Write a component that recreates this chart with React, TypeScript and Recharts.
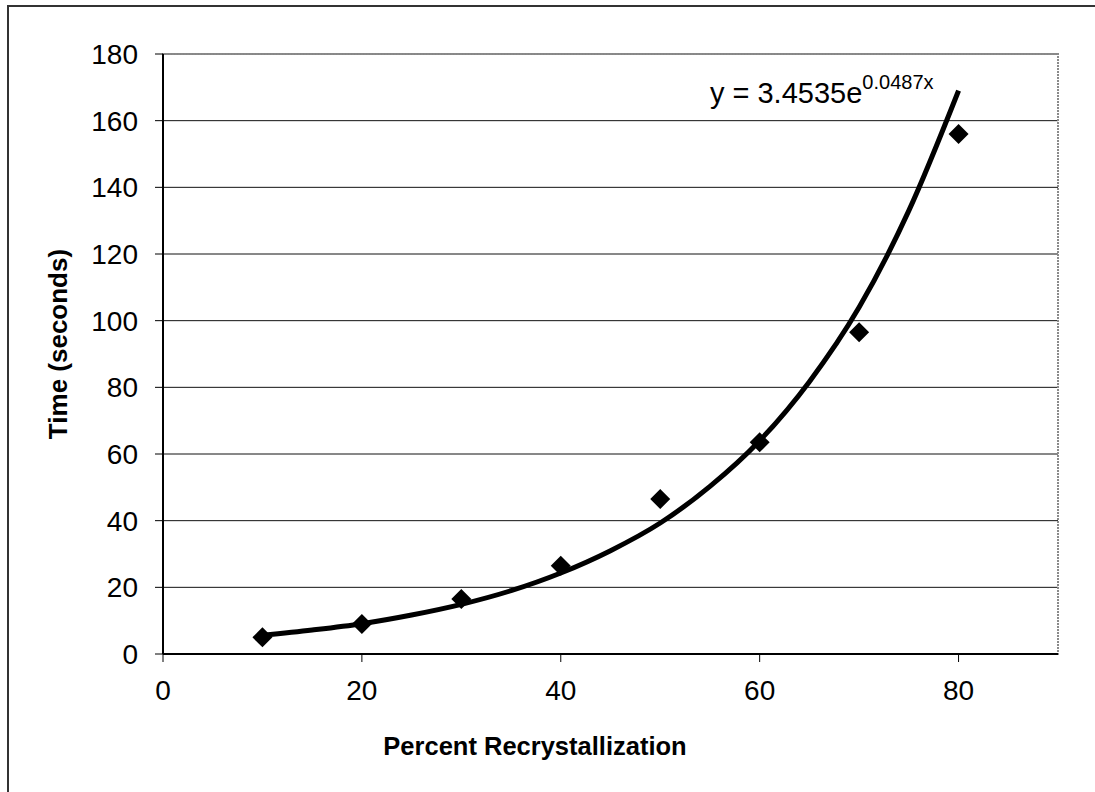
import React from 'react';
import {
  ComposedChart,
  XAxis,
  YAxis,
  CartesianGrid,
  Line,
  Scatter,
  ReferenceArea,
  ReferenceDot,
  Label,
} from 'recharts';

// measured points
const percentRecryst = [10, 20, 30, 40, 50, 60, 70, 80];
const timeSeconds = [5, 9, 16.5, 26.5, 46.5, 63.5, 96.5, 156];

// exponential trendline
const trendPercent = [10, 15, 20, 25, 30, 35, 40, 45, 50, 55, 60, 65, 70, 75, 80];
const trendTime = [5.6, 7.2, 9.1, 11.7, 14.9, 19.0, 24.3, 31.0, 39.3, 50.3, 64.0, 81.7, 104, 133, 169];

const xTicks = [0, 20, 40, 60, 80];
const yTicks = [0, 20, 40, 60, 80, 100, 120, 140, 160, 180];

const FONT = '"Liberation Sans", Arial, sans-serif';

const points = percentRecryst.map((x, i) => ({ x, y: timeSeconds[i] }));
const trend = trendPercent.map((x, i) => ({ x, y: trendTime[i] }));

function Diamond(props: any) {
  const { cx, cy } = props;
  const r = 10;
  return (
    <polygon
      points={`${cx},${cy - r} ${cx + r},${cy} ${cx},${cy + r} ${cx - r},${cy}`}
      fill="#000"
    />
  );
}

export default function App() {
  return (
    <div
      style={{
        position: 'absolute',
        left: 0,
        top: 0,
        width: 1095,
        height: 792,
        overflow: 'hidden',
        background: '#fff',
        fontFamily: FONT,
      }}
    >
      <div
        style={{
          position: 'absolute',
          left: 7,
          top: 5,
          width: 1110,
          height: 820,
          borderLeft: '2px solid #333',
          borderTop: '2px solid #333',
        }}
      />
      <ComposedChart
        width={1095}
        height={792}
        margin={{ top: 54, right: 37, bottom: 28, left: 0 }}
        style={{ position: 'absolute', left: 0, top: 0 }}
      >
        <CartesianGrid horizontal vertical={false} stroke="#111" strokeWidth={1} />
        <ReferenceArea
          x1={0}
          x2={90}
          y1={0}
          y2={180}
          fill="none"
          stroke="#8a8a8a"
          strokeWidth={2}
          strokeDasharray="2 1"
        />
        <XAxis
          type="number"
          dataKey="x"
          domain={[0, 90]}
          ticks={xTicks}
          allowDataOverflow
          height={110}
          tickSize={8}
          tickMargin={18}
          axisLine={{ stroke: '#000', strokeWidth: 2 }}
          tickLine={{ stroke: '#000' }}
          tick={{ fontSize: 28, fill: '#000', fontFamily: FONT }}
        >
          <Label
            content={() => (
              <text
                x={535}
                y={755}
                textAnchor="middle"
                fontSize={25.5}
                fontWeight="bold"
                fontFamily={FONT}
                fill="#000"
              >
                Percent Recrystallization
              </text>
            )}
          />
        </XAxis>
        <YAxis
          type="number"
          dataKey="y"
          domain={[0, 180]}
          ticks={yTicks}
          width={163}
          tickSize={8}
          tickMargin={17}
          axisLine={{ stroke: '#000', strokeWidth: 2 }}
          tickLine={{ stroke: '#000' }}
          tick={{ fontSize: 28, fill: '#000', fontFamily: FONT }}
        >
          <Label
            content={() => (
              <text
                x={67}
                y={344}
                transform="rotate(-90 67 344)"
                textAnchor="middle"
                fontSize={26}
                fontWeight="bold"
                fontFamily={FONT}
                fill="#000"
              >
                Time (seconds)
              </text>
            )}
          />
        </YAxis>
        <Line
          data={trend}
          dataKey="y"
          type="monotone"
          stroke="#000"
          strokeWidth={5}
          dot={false}
          isAnimationActive={false}
        />
        <Scatter
          data={points}
          dataKey="y"
          fill="#000"
          shape={<Diamond />}
          isAnimationActive={false}
        />
        <ReferenceDot x={55} y={165.3} r={0} fill="none" stroke="none" ifOverflow="visible">
          <Label
            content={(props: any) => {
              const vb = props.viewBox || {};
              const x = vb.cx ?? vb.x ?? 0;
              const y = vb.cy ?? vb.y ?? 0;
              return (
                <text x={x} y={y} fontSize={29} fontFamily={FONT} fill="#000">
                  y = 3.4535e
                  <tspan fontSize={20} dy={-14}>
                    0.0487x
                  </tspan>
                </text>
              );
            }}
          />
        </ReferenceDot>
      </ComposedChart>
    </div>
  );
}
